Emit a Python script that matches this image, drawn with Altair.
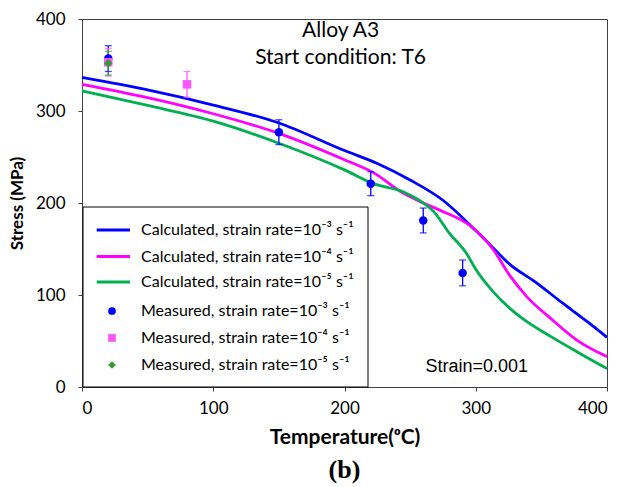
import altair as alt
import pandas as pd

# Calculated flow stress curves (MPa) versus temperature (degC)
calc_3_temp = [0, 50, 100, 150, 200, 225, 250, 275, 300, 312, 325, 345, 365, 385, 400]
calc_3_stress = [336.6, 323, 306.5, 287, 257, 243, 225, 203, 170, 153, 134.5, 114.5, 92.5, 71, 54]

calc_4_temp = [0, 50, 100, 150, 200, 222, 245, 260, 273, 296, 313, 326, 339, 357, 377, 400]
calc_4_stress = [329, 314.5, 297, 275.7, 247, 233, 210.5, 200, 192, 175, 150, 121, 98, 74.6, 51, 33]

calc_5_temp = [0, 50, 100, 150, 200, 222, 245, 257, 268, 280, 293, 300, 313, 326, 339, 357, 377, 400]
calc_5_stress = [322, 306, 289, 265, 236, 221, 212, 203, 190.6, 167, 145, 128, 104, 85.5, 71, 55, 38.4, 20]

# Measured stresses with error bar half-widths
meas_3_temp = [20, 150, 220, 260, 290]
meas_3_stress = [357, 277, 221, 181, 124]
meas_3_err = [14, 13.5, 13, 13.5, 14]

meas_4_temp = [20, 80]
meas_4_stress = [353, 329]
meas_4_err = [15, 14]

meas_5_temp = [20]
meas_5_stress = [352]
meas_5_err = [13]

calc_labels = [
    "Calculated, strain rate=10\u207b\u00b3 s\u207b\u00b9",
    "Calculated, strain rate=10\u207b\u2074 s\u207b\u00b9",
    "Calculated, strain rate=10\u207b\u2075 s\u207b\u00b9",
]
meas_labels = [
    "Measured, strain rate=10\u207b\u00b3 s\u207b\u00b9",
    "Measured, strain rate=10\u207b\u2074 s\u207b\u00b9",
    "Measured, strain rate=10\u207b\u2075 s\u207b\u00b9",
]
line_colors = ["#0000ff", "#ff00ff", "#00b050"]
point_colors = ["#0000ff", "#ff55ff", "#339933"]
point_shapes = ["circle", "square", "diamond"]

FONT = "Lato"

calc_df = pd.concat([
    pd.DataFrame({"T": t, "S": s, "series": lab, "order": range(len(t))})
    for t, s, lab in zip(
        [calc_3_temp, calc_4_temp, calc_5_temp],
        [calc_3_stress, calc_4_stress, calc_5_stress],
        calc_labels,
    )
], ignore_index=True)

meas_df = pd.concat([
    pd.DataFrame({"T": t, "S": s, "err": e, "series": lab})
    for t, s, e, lab in zip(
        [meas_3_temp, meas_4_temp, meas_5_temp],
        [meas_3_stress, meas_4_stress, meas_5_stress],
        [meas_3_err, meas_4_err, meas_5_err],
        meas_labels,
    )
], ignore_index=True)
meas_df["lo"] = meas_df["S"] - meas_df["err"]
meas_df["hi"] = meas_df["S"] + meas_df["err"]

x_scale = alt.Scale(domain=[0, 400], nice=False, zero=False)
y_scale = alt.Scale(domain=[0, 400], nice=False, zero=False)

x_axis = alt.Axis(
    values=[0, 100, 200, 300, 400], title="Temperature(\u1d52C)", grid=False,
    labelFont=FONT, labelFontSize=17, labelColor="#000", labelPadding=9,
    titleFont=FONT, titleFontSize=21, titleFontWeight="bold", titleColor="#000",
    titlePadding=10, tickSize=4, tickColor="#404040", domainColor="#404040",
)
y_axis = alt.Axis(
    values=[0, 100, 200, 300, 400], title="Stress (MPa)", grid=False,
    labelFont=FONT, labelFontSize=17, labelColor="#000", labelPadding=13,
    titleFont=FONT, titleFontSize=17, titleFontWeight="bold", titleColor="#000",
    titlePadding=9, tickSize=4, tickColor="#404040", domainColor="#404040",
)

x_enc = alt.X("T:Q", scale=x_scale, axis=x_axis)
y_enc = alt.Y("S:Q", scale=y_scale, axis=y_axis)

lines = alt.Chart(calc_df).mark_line(strokeWidth=2.8, interpolate="monotone").encode(
    x=x_enc,
    y=y_enc,
    order="order:Q",
    color=alt.Color("series:N", scale=alt.Scale(domain=calc_labels, range=line_colors), legend=None),
)

meas_color = alt.Scale(domain=meas_labels, range=point_colors)

err_rules = alt.Chart(meas_df).mark_rule(strokeWidth=1.3).encode(
    x=alt.X("T:Q", scale=x_scale),
    y=alt.Y("lo:Q", scale=y_scale),
    y2="hi:Q",
    color=alt.Color("series:N", scale=meas_color, legend=None),
)
err_lo = alt.Chart(meas_df).mark_tick(orient="horizontal", size=7, thickness=1.3).encode(
    x=alt.X("T:Q", scale=x_scale),
    y=alt.Y("lo:Q", scale=y_scale),
    color=alt.Color("series:N", scale=meas_color, legend=None),
)
err_hi = alt.Chart(meas_df).mark_tick(orient="horizontal", size=7, thickness=1.3).encode(
    x=alt.X("T:Q", scale=x_scale),
    y=alt.Y("hi:Q", scale=y_scale),
    color=alt.Color("series:N", scale=meas_color, legend=None),
)

points = alt.Chart(meas_df).mark_point(filled=True, size=72, opacity=1).encode(
    x=alt.X("T:Q", scale=x_scale),
    y=alt.Y("S:Q", scale=y_scale),
    color=alt.Color("series:N", scale=meas_color, legend=None),
    shape=alt.Shape("series:N", scale=alt.Scale(domain=meas_labels, range=point_shapes), legend=None),
)

# Legend panel in the lower-left corner of the plot
LEG_LEFT, LEG_RIGHT, LEG_TOP, LEG_BOTTOM = 1, 286, 188, 368
LEG_ROWS = [211, 237.5, 263, 292, 319, 346]
SAMPLE_X0, SAMPLE_X1, SYMBOL_X, LABEL_X = 14.7, 48, 30, 59
LEG_FONT_SIZE = 16

legend_layers = [
    alt.Chart(pd.DataFrame({"k": [0]})).mark_rect(
        fill="white", stroke="#000", strokeWidth=1
    ).encode(x=alt.value(LEG_LEFT), x2=alt.value(LEG_RIGHT),
             y=alt.value(LEG_TOP), y2=alt.value(LEG_BOTTOM))
]
for i, (lab, col) in enumerate(zip(calc_labels, line_colors)):
    row = pd.DataFrame({"label": [lab]})
    legend_layers.append(
        alt.Chart(row).mark_rule(strokeWidth=3, color=col).encode(
            x=alt.value(SAMPLE_X0), x2=alt.value(SAMPLE_X1), y=alt.value(LEG_ROWS[i]))
    )
    legend_layers.append(
        alt.Chart(row).mark_text(align="left", baseline="middle", font=FONT,
                                 fontSize=LEG_FONT_SIZE, color="#000").encode(
            x=alt.value(LABEL_X), y=alt.value(LEG_ROWS[i]), text="label:N")
    )
for i, (lab, col, shp) in enumerate(zip(meas_labels, point_colors, point_shapes)):
    row = pd.DataFrame({"label": [lab]})
    legend_layers.append(
        alt.Chart(row).mark_point(filled=True, size=60, opacity=1, color=col, shape=shp).encode(
            x=alt.value(SYMBOL_X), y=alt.value(LEG_ROWS[3 + i]))
    )
    legend_layers.append(
        alt.Chart(row).mark_text(align="left", baseline="middle", font=FONT,
                                 fontSize=LEG_FONT_SIZE, color="#000").encode(
            x=alt.value(LABEL_X), y=alt.value(LEG_ROWS[3 + i]), text="label:N")
    )

notes_df = pd.DataFrame({
    "T": [197, 197],
    "S": [387, 357.6],
    "txt": ["Alloy A3", "Start condition: T6"],
})
notes = alt.Chart(notes_df).mark_text(font=FONT, fontSize=21, color="#000").encode(
    x=alt.X("T:Q", scale=x_scale), y=alt.Y("S:Q", scale=y_scale), text="txt:N"
)

strain_df = pd.DataFrame({"T": [300.7], "S": [22], "txt": ["Strain=0.001"]})
strain = alt.Chart(strain_df).mark_text(font="Liberation Sans", fontSize=18, color="#000").encode(
    x=alt.X("T:Q", scale=x_scale), y=alt.Y("S:Q", scale=y_scale), text="txt:N"
)

panel = alt.Chart(pd.DataFrame({"txt": ["(b)"]})).mark_text(
    font="Liberation Serif", fontSize=26, fontWeight="bold", color="#000"
).encode(x=alt.value(262.5), y=alt.value(451), text="txt:N")

chart = alt.layer(
    lines, err_rules, err_lo, err_hi, points, *legend_layers, notes, strain, panel
).resolve_scale(
    color="independent", shape="independent"
).properties(
    width=525, height=368,
    autosize=alt.AutoSizeParams(type="none"),
    padding={"left": 82, "top": 19, "right": 20, "bottom": 100},
).configure_view(stroke="#404040", strokeWidth=1)

chart.save("out.html", embed_options={"renderer": "svg", "actions": False})
